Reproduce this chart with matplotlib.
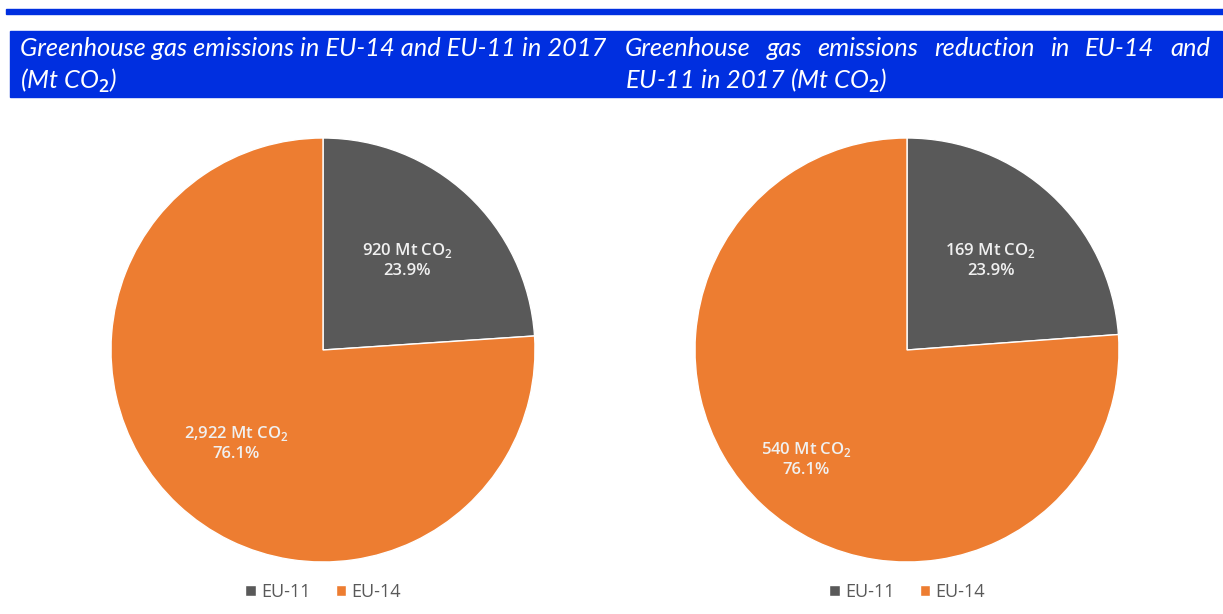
import matplotlib.pyplot as plt
import numpy as np
from matplotlib.patches import Rectangle

# data
groups = ['EU-11', 'EU-14']
emissions = [920, 2922]
emissions_pct = ['23.9%', '76.1%']
reduction = [169, 540]
reduction_pct = ['23.9%', '76.1%']
colors = ['#595959', '#ED7D31']
blue = '#002FE0'

W, H = 1223, 614
fig = plt.figure(figsize=[W / 100, H / 100], dpi=100)
plt.rcParams['mathtext.fontset'] = 'custom'
plt.rcParams['mathtext.rm'] = 'Lato:italic'
r = fig.canvas.get_renderer()


def fx(x):
    return x / W


def fy(y):
    return 1 - y / H


# top rule and header band
fig.patches.append(Rectangle((fx(6), fy(14)), fx(1217), 5 / H, transform=fig.transFigure,
                             color=blue, zorder=0))
fig.patches.append(Rectangle((fx(10), fy(97)), fx(1212), 66 / H, transform=fig.transFigure,
                             color=blue, zorder=0))

hfont = dict(family='Lato', style='italic', color='white')

t = fig.text(fx(20), fy(56), 'Greenhouse gas emissions in EU-14 and EU-11 in 2017', size=16, **hfont)
hsize = 16 * 585 / t.get_window_extent(r).width
t.set_fontsize(hsize)
fig.text(fx(20), fy(89), '(Mt CO$_2$)', size=hsize, **hfont)

# justified first line on the right
words = 'Greenhouse gas emissions reduction in EU-14 and'.split()
tws = []
objs = []
for w in words:
    t = fig.text(0, fy(56), w, size=hsize, **hfont)
    objs.append(t)
    tws.append(t.get_window_extent(r).width)
x0, x1 = 625, 1210
gap = (x1 - x0 - sum(tws)) / (len(words) - 1)
x = x0
for t, w in zip(objs, tws):
    t.set_x(fx(x))
    x += w + gap
fig.text(fx(625), fy(89), 'EU-11 in 2017 (Mt CO$_2$)', size=hsize, **hfont)


def draw_pie(cx, vals, pcts, pctdist):
    ax = fig.add_axes([fx(cx - 212), fy(562), fx(424), 424 / H])
    labels = [f'{v:,} Mt CO$_2$\n{p}' for v, p in zip(vals, pcts)]
    wedges, _ = ax.pie(vals, colors=colors, startangle=90, counterclock=False,
                       wedgeprops=dict(linewidth=1, edgecolor='white'))
    for wdg, lab, d in zip(wedges, labels, pctdist):
        ang = np.deg2rad((wdg.theta1 + wdg.theta2) / 2)
        ax.text(d * np.cos(ang), d * np.sin(ang), lab, ha='center', va='center',
                fontsize=12, color='#F0F0F0', family='Open Sans', linespacing=1.25,
                fontweight='semibold')
    ax.set_xlim(-1, 1)
    ax.set_ylim(-1, 1)
    ax.set_aspect('equal')
    leg = fig.legend(wedges, groups, loc='center', bbox_to_anchor=(fx(cx), fy(592)),
                     ncol=2, frameon=False, handlelength=0.6, handleheight=0.6,
                     handletextpad=0.25, columnspacing=1.4,
                     prop=dict(family='Open Sans', size=13))
    for t in leg.get_texts():
        t.set_color('#595959')


plt.rcParams['mathtext.rm'] = 'Open Sans:semibold'
draw_pie(323, emissions, emissions_pct, [0.58, 0.6])
draw_pie(907, reduction, reduction_pct, [0.58, 0.7])

fig.savefig('out.png', dpi=100)
